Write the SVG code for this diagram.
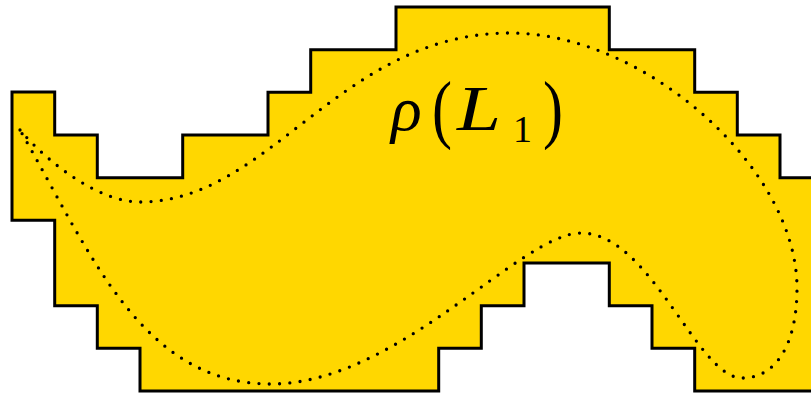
<svg xmlns="http://www.w3.org/2000/svg" width="811" height="394" viewBox="0 0 811 394">
<style>
.region{fill:#FFD700;stroke:#000;stroke-width:3;stroke-linejoin:miter}
.loop{fill:none;stroke:#000;stroke-width:3.3;stroke-linecap:round;stroke-dasharray:0 10.3}
.m{font-family:"Liberation Serif","DejaVu Serif",serif;fill:#000}
.i{font-style:italic}
</style>
<rect width="811" height="394" fill="#fff"/>
<g id="region">
<path class="region" d="M12,92 H54.7 V135 H97.3 V177.7 H182.7 V135 H268 V92.3 H310.7 V49.7 H396 V7 H609.3 V49.7 H694.7 V92.3 H737.3 V135 H780 V177.7 H830 V391 H694.7 V348.3 H652 V305.7 H609.3 V263 H524 V305.7 H481.3 V348.3 H438.7 V391 H140 V348.3 H97.3 V305.7 H54.7 V220.3 H12 Z"/>
</g>
<g id="curve">
<path class="loop" d="M20,130 C50,165 100,202 140,202 C270,202 340,33 510,33 C645,33 797,168 797,288 C797,343 777,378 742,378 C697,378 651,233 581,233 C521,233 398,384 271,384 C141,384 90,252 20,130 Z"/>
</g>
<g id="label">
<text class="m i" x="391" y="130" font-size="64">ρ</text>
<text class="m" x="432" y="134" font-size="76" textLength="20" lengthAdjust="spacingAndGlyphs">(</text>
<text class="m i" x="457" y="130" font-size="64" textLength="44" lengthAdjust="spacingAndGlyphs">L</text>
<text class="m" x="513" y="142" font-size="38">1</text>
<text class="m" x="543" y="134" font-size="76" textLength="20" lengthAdjust="spacingAndGlyphs">)</text>
</g>
</svg>
